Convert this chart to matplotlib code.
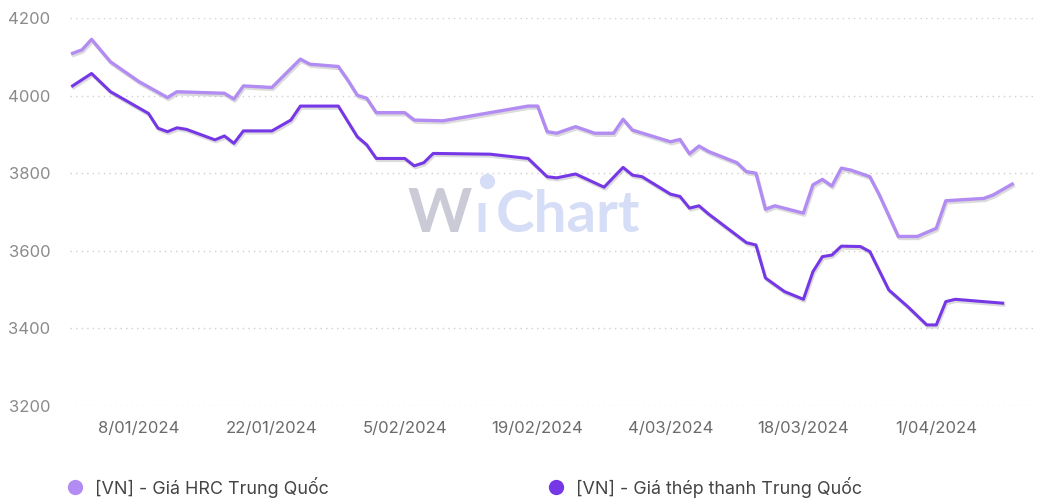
import pandas as pd
import matplotlib.pyplot as plt
import matplotlib.dates as mdates
import matplotlib.patheffects as pe
from matplotlib.lines import Line2D

plt.rcParams['font.family'] = ['Inter', 'DejaVu Sans']

# [VN] - Giá HRC Trung Quốc
hrc_dates = ["2024-01-01", "2024-01-02", "2024-01-03", "2024-01-05", "2024-01-08", "2024-01-11",
             "2024-01-12", "2024-01-17", "2024-01-18", "2024-01-19", "2024-01-22", "2024-01-25",
             "2024-01-26", "2024-01-29", "2024-01-30", "2024-01-31", "2024-02-01", "2024-02-02",
             "2024-02-05", "2024-02-06", "2024-02-09", "2024-02-18", "2024-02-19", "2024-02-20",
             "2024-02-21", "2024-02-23", "2024-02-25", "2024-02-27", "2024-02-28", "2024-02-29",
             "2024-03-04", "2024-03-05", "2024-03-06", "2024-03-07", "2024-03-08", "2024-03-11",
             "2024-03-12", "2024-03-13", "2024-03-14", "2024-03-15", "2024-03-18", "2024-03-19",
             "2024-03-20", "2024-03-21", "2024-03-22", "2024-03-23", "2024-03-25", "2024-03-26",
             "2024-03-28", "2024-03-30", "2024-04-01", "2024-04-02", "2024-04-06", "2024-04-07",
             "2024-04-09"]
hrc_vals = [4109, 4118, 4145, 4087, 4036, 3995,
            4010, 4006, 3991, 4025, 4021, 4094,
            4081, 4075, 4040, 4001, 3993, 3956,
            3956, 3937, 3935, 3973, 3973, 3907,
            3903, 3920, 3903, 3903, 3939, 3911,
            3881, 3887, 3850, 3870, 3856, 3827,
            3804, 3800, 3707, 3716, 3697, 3770,
            3784, 3767, 3813, 3808, 3791, 3744,
            3637, 3637, 3658, 3729, 3735, 3744,
            3772]

# [VN] - Giá thép thanh Trung Quốc
steel_dates = ["2024-01-01", "2024-01-03", "2024-01-05", "2024-01-09", "2024-01-10", "2024-01-11",
               "2024-01-12", "2024-01-13", "2024-01-16", "2024-01-17", "2024-01-18", "2024-01-19",
               "2024-01-22", "2024-01-24", "2024-01-25", "2024-01-29", "2024-01-31", "2024-02-01",
               "2024-02-02", "2024-02-05", "2024-02-06", "2024-02-07", "2024-02-08", "2024-02-14",
               "2024-02-18", "2024-02-20", "2024-02-21", "2024-02-23", "2024-02-26", "2024-02-28",
               "2024-02-29", "2024-03-01", "2024-03-04", "2024-03-05", "2024-03-06", "2024-03-07",
               "2024-03-08", "2024-03-12", "2024-03-13", "2024-03-14", "2024-03-16", "2024-03-18",
               "2024-03-19", "2024-03-20", "2024-03-21", "2024-03-22", "2024-03-24", "2024-03-25",
               "2024-03-27", "2024-03-29", "2024-03-31", "2024-04-01", "2024-04-02", "2024-04-03",
               "2024-04-08"]
steel_vals = [4025, 4057, 4010, 3954, 3916, 3907,
              3917, 3913, 3886, 3896, 3877, 3909,
              3909, 3937, 3973, 3973, 3894, 3873,
              3838, 3838, 3819, 3827, 3851, 3849,
              3838, 3791, 3788, 3798, 3764, 3815,
              3795, 3791, 3746, 3740, 3710, 3716,
              3695, 3621, 3615, 3530, 3495, 3475,
              3546, 3585, 3589, 3612, 3611, 3598,
              3499, 3456, 3409, 3409, 3469, 3475,
              3465]

tick_dates = ["2024-01-08", "2024-01-22", "2024-02-05", "2024-02-19", "2024-03-04", "2024-03-18", "2024-04-01"]
tick_labels = ["8/01/2024", "22/01/2024", "5/02/2024", "19/02/2024", "4/03/2024", "18/03/2024", "1/04/2024"]
y_ticks = [3200, 3400, 3600, 3800, 4000, 4200]

names = ["[VN] - Giá HRC Trung Quốc", "[VN] - Giá thép thanh Trung Quốc"]
colors = ["#B28CF2", "#7638E6"]

W, H = 1039, 500
fig = plt.figure(figsize=(W / 100, H / 100), dpi=100)
ax = fig.add_axes([70 / W, (H - 406) / H, (1035 - 70) / W, 388 / H])

shadow = [pe.SimpleLineShadow(offset=(0.8, -1.5), shadow_color='#999999', alpha=0.35), pe.Normal()]
ax.plot(pd.to_datetime(hrc_dates), hrc_vals, color=colors[0], lw=2.4, path_effects=shadow,
        solid_joinstyle='round', zorder=3)
ax.plot(pd.to_datetime(steel_dates), steel_vals, color=colors[1], lw=2.2, path_effects=shadow,
        solid_joinstyle='round', zorder=4)

x0 = mdates.date2num(pd.Timestamp("2024-01-01"))
ax.set_xlim(x0 - 0.27, x0 + 101.4)
ax.set_ylim(3200, 4200)
ax.set_yticks(y_ticks)
ax.set_xticks(pd.to_datetime(tick_dates))
ax.set_xticklabels(tick_labels)
ax.tick_params(axis='y', length=0, pad=14, labelsize=12, labelcolor='#8a8a8a')
ax.tick_params(axis='x', length=0, pad=11, labelsize=12, labelcolor='#6b6b6b')
ax.grid(axis='y', linestyle=(0, (1, 3)), color='#cfcfcf', lw=1)
ax.grid(axis='x', visible=False)
for s in ax.spines.values():
    s.set_visible(False)

# watermark "WiChart"
fig.text(440 / W, 1 - 232 / H, "W", fontsize=44, fontweight='bold', color='#CBCBD8',
         ha='center', va='baseline', family='Lato', zorder=1)
fig.text(481 / W, 1 - 232 / H, "ı", fontsize=40, fontweight='bold', color='#D6DEF7',
         ha='center', va='baseline', family='Lato', zorder=1)
fig.add_artist(Line2D([487 / W], [1 - 181 / H], marker='o', markersize=10, color='#D6DEF7',
                      transform=fig.transFigure, zorder=1))
fig.text(568 / W, 1 - 232 / H, "Chart", fontsize=42, fontweight='bold', color='#D6DEF7',
         ha='center', va='baseline', family='Lato', zorder=1)

# legend
for x_m, name, c in [(75, names[0], colors[0]), (556, names[1], colors[1])]:
    fig.add_artist(Line2D([x_m / W], [1 - 487 / H], marker='o', markersize=10, color=c,
                          transform=fig.transFigure))
    fig.text((x_m + 20) / W, 1 - 487 / H, name, fontsize=12.9, color='#444444', va='center')

fig.savefig("out.png", dpi=100)
